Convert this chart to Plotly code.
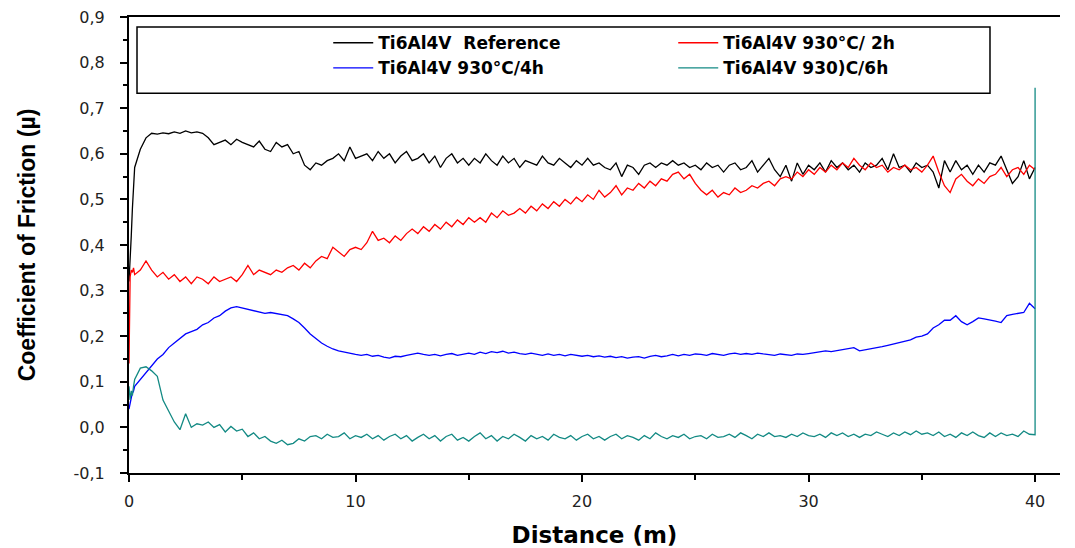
import plotly.graph_objects as go

# Sliding distance (m): fine steps at the start, then every 0.25 m up to 40 m
distance = [0.0, 0.05, 0.1, 0.15, 0.2] + [round(0.25 * i, 2) for i in range(1, 161)]

# Ti6Al4V Reference (black)
cof_reference = [
    0.32, 0.36, 0.42, 0.48, 0.53,
    0.57, 0.61, 0.635, 0.645,
    0.643, 0.646, 0.644, 0.648,
    0.645, 0.65, 0.646, 0.648,
    0.645, 0.635, 0.62, 0.625,
    0.63, 0.62, 0.632, 0.625,
    0.62, 0.615, 0.628, 0.61,
    0.605, 0.625, 0.615, 0.62,
    0.6, 0.605, 0.575, 0.565,
    0.58, 0.575, 0.585, 0.59,
    0.6, 0.585, 0.615, 0.59,
    0.595, 0.6, 0.585, 0.605,
    0.59, 0.6, 0.58, 0.595,
    0.605, 0.585, 0.59, 0.6,
    0.58, 0.595, 0.57, 0.59,
    0.6, 0.58, 0.59, 0.575,
    0.59, 0.58, 0.6, 0.585,
    0.575, 0.595, 0.58, 0.59,
    0.57, 0.585, 0.58, 0.575,
    0.595, 0.58, 0.575, 0.59,
    0.58, 0.57, 0.585, 0.575,
    0.59, 0.575, 0.58, 0.57,
    0.565, 0.58, 0.55, 0.575,
    0.57, 0.555, 0.575, 0.58,
    0.57, 0.58, 0.575, 0.585,
    0.575, 0.58, 0.57, 0.575,
    0.565, 0.58, 0.57, 0.575,
    0.56, 0.575, 0.58, 0.565,
    0.57, 0.585, 0.56, 0.575,
    0.59, 0.565, 0.55, 0.575,
    0.54, 0.58, 0.555, 0.575,
    0.565, 0.58, 0.56, 0.585,
    0.57, 0.58, 0.565, 0.575,
    0.56, 0.58, 0.57, 0.575,
    0.59, 0.565, 0.6, 0.57,
    0.575, 0.56, 0.58, 0.57,
    0.575, 0.56, 0.525, 0.585,
    0.56, 0.585, 0.565, 0.575,
    0.555, 0.575, 0.56, 0.58,
    0.575, 0.595, 0.565, 0.535,
    0.55, 0.585, 0.545, 0.57,
]

# Ti6Al4V 930°C / 2h (red)
cof_2h = [
    0.14, 0.33, 0.345, 0.34, 0.35,
    0.335, 0.345, 0.365, 0.345,
    0.33, 0.34, 0.325, 0.335,
    0.32, 0.33, 0.315, 0.33,
    0.325, 0.315, 0.33, 0.32,
    0.325, 0.33, 0.32, 0.335,
    0.355, 0.335, 0.345, 0.34,
    0.335, 0.345, 0.34, 0.35,
    0.355, 0.345, 0.36, 0.35,
    0.365, 0.375, 0.37, 0.395,
    0.385, 0.375, 0.39, 0.395,
    0.39, 0.405, 0.43, 0.41,
    0.415, 0.405, 0.42, 0.41,
    0.425, 0.435, 0.425, 0.44,
    0.43, 0.445, 0.435, 0.45,
    0.44, 0.455, 0.445, 0.46,
    0.45, 0.46, 0.45, 0.47,
    0.46, 0.475, 0.465, 0.47,
    0.48, 0.47, 0.485, 0.475,
    0.49, 0.48, 0.495, 0.485,
    0.5, 0.49, 0.505, 0.495,
    0.51, 0.5, 0.52, 0.505,
    0.515, 0.53, 0.51, 0.525,
    0.52, 0.535, 0.525, 0.54,
    0.53, 0.545, 0.54, 0.555,
    0.56, 0.545, 0.555, 0.535,
    0.52, 0.51, 0.52, 0.505,
    0.515, 0.51, 0.525, 0.515,
    0.52, 0.53, 0.525, 0.535,
    0.54, 0.53, 0.545, 0.55,
    0.545, 0.56, 0.55, 0.565,
    0.555, 0.57, 0.56, 0.575,
    0.565, 0.58, 0.57, 0.59,
    0.575, 0.565, 0.58, 0.57,
    0.575, 0.56, 0.57, 0.565,
    0.575, 0.565, 0.57, 0.56,
    0.575, 0.595, 0.56, 0.53,
    0.515, 0.545, 0.555, 0.54,
    0.53, 0.545, 0.535, 0.55,
    0.555, 0.57, 0.55, 0.565,
    0.57, 0.555, 0.575, 0.565,
]

# Ti6Al4V 930°C / 4h (blue)
cof_4h = [
    0.04, 0.055, 0.065, 0.075, 0.08,
    0.09, 0.105, 0.12, 0.135,
    0.15, 0.16, 0.175, 0.185,
    0.195, 0.205, 0.21, 0.215,
    0.225, 0.23, 0.24, 0.245,
    0.255, 0.262, 0.265, 0.262,
    0.258, 0.255, 0.252, 0.25,
    0.252, 0.25, 0.248, 0.245,
    0.238, 0.23, 0.218, 0.205,
    0.195, 0.185, 0.178, 0.172,
    0.168, 0.165, 0.162, 0.16,
    0.158, 0.16, 0.156, 0.158,
    0.154, 0.152, 0.156, 0.155,
    0.158, 0.16, 0.163, 0.16,
    0.158, 0.16, 0.157, 0.16,
    0.162, 0.158, 0.16, 0.163,
    0.16, 0.165, 0.162, 0.166,
    0.164, 0.167, 0.163, 0.165,
    0.162, 0.16, 0.163, 0.16,
    0.158, 0.161, 0.158, 0.16,
    0.157, 0.16, 0.158, 0.156,
    0.158, 0.155, 0.157, 0.154,
    0.156, 0.153, 0.155, 0.152,
    0.154, 0.155, 0.152, 0.156,
    0.158, 0.155, 0.157, 0.16,
    0.157, 0.16, 0.158, 0.161,
    0.16, 0.158, 0.162, 0.16,
    0.158, 0.161, 0.163, 0.16,
    0.162, 0.16, 0.163, 0.161,
    0.16, 0.158, 0.161, 0.16,
    0.158, 0.161, 0.16, 0.162,
    0.164, 0.166, 0.168, 0.166,
    0.168, 0.17, 0.172, 0.175,
    0.168, 0.17, 0.172, 0.175,
    0.177, 0.18, 0.183, 0.186,
    0.188, 0.192, 0.198, 0.2,
    0.205, 0.218, 0.225, 0.235,
    0.235, 0.245, 0.232, 0.225,
    0.232, 0.24, 0.238, 0.236,
    0.233, 0.23, 0.245, 0.248,
    0.25, 0.252, 0.272, 0.26,
]

# Ti6Al4V 930)C / 6h (teal)
cof_6h = [
    0.09, 0.06, 0.08, 0.07, 0.09,
    0.105, 0.13, 0.133, 0.124,
    0.112, 0.06, 0.035, 0.012,
    -0.005, 0.03, 0.0, 0.008,
    0.005, 0.012, 0.0, 0.006,
    -0.01, 0.002, -0.008, -0.004,
    -0.02, -0.012, -0.025, -0.02,
    -0.03, -0.035, -0.028, -0.038,
    -0.035, -0.025, -0.03, -0.02,
    -0.018, -0.025, -0.015, -0.022,
    -0.02, -0.012, -0.025, -0.018,
    -0.022, -0.015, -0.025, -0.018,
    -0.028, -0.02, -0.015, -0.025,
    -0.018, -0.03, -0.022, -0.015,
    -0.025, -0.018, -0.03, -0.02,
    -0.015, -0.028, -0.022, -0.03,
    -0.02, -0.012, -0.025, -0.018,
    -0.03, -0.02, -0.025, -0.015,
    -0.022, -0.03, -0.018, -0.025,
    -0.02, -0.028, -0.015, -0.022,
    -0.025, -0.018, -0.028, -0.02,
    -0.015, -0.025, -0.02, -0.028,
    -0.02, -0.015, -0.025, -0.018,
    -0.022, -0.028, -0.018, -0.025,
    -0.012, -0.02, -0.025, -0.018,
    -0.022, -0.015, -0.025, -0.02,
    -0.018, -0.025, -0.015, -0.022,
    -0.02, -0.015, -0.022, -0.012,
    -0.018, -0.025, -0.015, -0.02,
    -0.012, -0.02, -0.018, -0.022,
    -0.015, -0.02, -0.012, -0.018,
    -0.02, -0.015, -0.022, -0.012,
    -0.018, -0.012, -0.02, -0.015,
    -0.022, -0.015, -0.018, -0.01,
    -0.015, -0.02, -0.012, -0.018,
    -0.01, -0.016, -0.008, -0.015,
    -0.012, -0.018, -0.01, -0.02,
    -0.015, -0.022, -0.012, -0.018,
    -0.01, -0.018, -0.022, -0.012,
    -0.02, -0.012, -0.018, -0.015,
    -0.02, -0.008, -0.015, -0.016,
]
# final recorded spike of the 6h run at the end of the test
end_spike_distance_6h = 40.0
end_spike_cof_6h = 0.745

series_names = [
    "Ti6Al4V  Reference",
    "Ti6Al4V 930°C/ 2h",
    "Ti6Al4V 930°C/4h",
    "Ti6Al4V 930)C/6h",
]
series_colors = ["#000000", "#ff0000", "#0000ff", "#138a84"]

y_tick_values = [-0.1, 0.0, 0.1, 0.2, 0.3, 0.4, 0.5, 0.6, 0.7, 0.8, 0.9]
y_tick_labels = ["-0,1", "0,0", "0,1", "0,2", "0,3", "0,4", "0,5", "0,6", "0,7", "0,8", "0,9"]
x_tick_values = [0, 10, 20, 30, 40]

fig = go.Figure()
xs = [distance, distance, distance, distance + [end_spike_distance_6h]]
ys = [cof_reference, cof_2h, cof_4h, cof_6h + [end_spike_cof_6h]]
for name, color, x, y in zip(series_names, series_colors, xs, ys):
    fig.add_trace(go.Scatter(x=x, y=y, mode="lines", name=name,
                             line=dict(color=color, width=1.3)))

# legend frame
fig.add_shape(type="rect", xref="paper", yref="paper",
              x0=0.0086, x1=0.9248, y0=0.833, y1=0.978,
              line=dict(color="black", width=1.5), fillcolor="rgba(0,0,0,0)")

fig.update_layout(
    width=1075, height=548,
    margin=dict(l=129, r=15, t=17, b=75),
    paper_bgcolor="white", plot_bgcolor="white",
    showlegend=True,
    legend=dict(orientation="h", x=0.214, y=0.982, xanchor="left", yanchor="top",
                entrywidth=290, entrywidthmode="pixels", itemwidth=40,
                bgcolor="rgba(0,0,0,0)", borderwidth=0,
                font=dict(family="DejaVu Sans", size=17, color="black", weight="bold")),
    xaxis=dict(range=[0, 41.1], tickvals=x_tick_values, ticks="outside", ticklen=7,
               tickwidth=2, tickcolor="black", showline=True, linecolor="black",
               linewidth=2, mirror=True, showgrid=False, zeroline=False,
               ticklabelstandoff=6, automargin=False,
               minor=dict(dtick=5, ticks="outside", ticklen=5, tickwidth=2, tickcolor="black"),
               tickfont=dict(family="DejaVu Sans", size=16, color="#222"),
               title=dict(text="Distance (m)", standoff=20,
                          font=dict(family="DejaVu Sans", size=23, color="black", weight="bold"))),
    yaxis=dict(range=[-0.1, 0.9], tickvals=y_tick_values, ticktext=y_tick_labels,
               ticks="outside", ticklen=7, tickwidth=2, tickcolor="black",
               showline=True, linecolor="black", linewidth=2, mirror=False,
               showgrid=False, zeroline=False, ticklabelstandoff=12, automargin=False,
               minor=dict(dtick=0.05, ticks="outside", ticklen=4, tickwidth=2, tickcolor="black"),
               tickfont=dict(family="DejaVu Sans", size=16, color="#222"),
               title=dict(text="Coefficient of Friction (µ)", standoff=32,
                          font=dict(family="Liberation Sans", size=23, color="black", weight="bold"))),
)

fig.write_html("out.html")
